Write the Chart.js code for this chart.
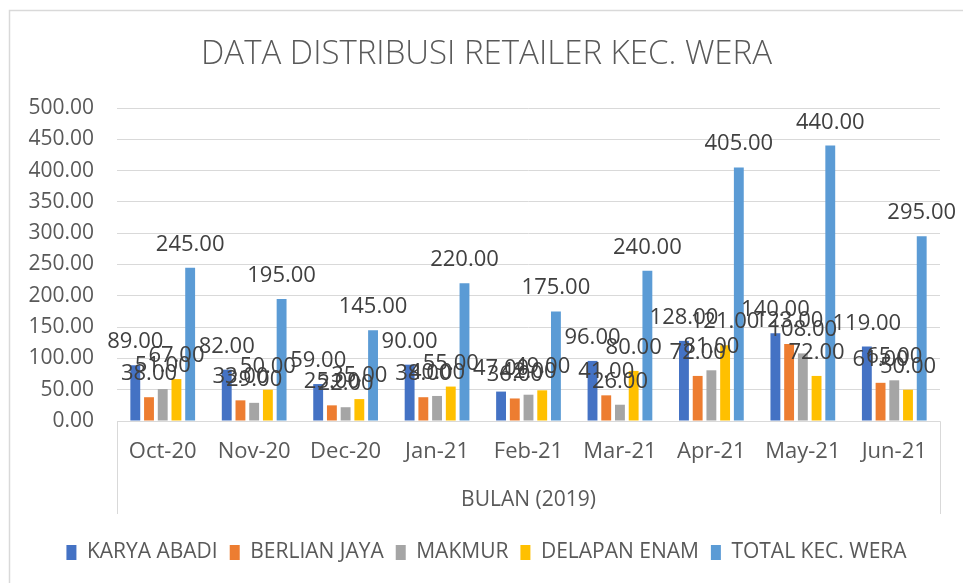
<!DOCTYPE html>
<html>
<head>
<meta charset="utf-8">
<script src="https://cdn.jsdelivr.net/npm/chart.js@4.4.1/dist/chart.umd.min.js"></script>
<style>
html,body{margin:0;padding:0;background:#fff;}
#wrap{width:963px;height:583px;}
</style>
</head>
<body>
<div id="wrap"><canvas id="c" width="963" height="583"></canvas></div>
<script>
const categories = ['Oct-20','Nov-20','Dec-20','Jan-21','Feb-21','Mar-21','Apr-21','May-21','Jun-21'];
const karyaAbadi   = [89, 82, 59, 90, 47, 96, 128, 140, 119];
const berlianJaya  = [38, 33, 25, 38, 36, 41, 72, 123, 61];
const makmur       = [51, 29, 22, 40, 42, 26, 81, 108, 65];
const delapanEnam  = [67, 50, 35, 55, 49, 80, 121, 72, 50];
const totalKecWera = [245, 195, 145, 220, 175, 240, 405, 440, 295];
const seriesNames  = ['KARYA ABADI','BERLIAN JAYA','MAKMUR','DELAPAN ENAM','TOTAL KEC. WERA'];
const yTicks = [0, 50, 100, 150, 200, 250, 300, 350, 400, 450, 500];
const chartTitle = 'DATA DISTRIBUSI RETAILER KEC. WERA';
const axisTitle = 'BULAN (2019)';

const colors = ['#4472C4','#ED7D31','#A5A5A5','#FFC000','#5B9BD5'];
const FONT = "'Open Sans', 'Liberation Sans', sans-serif";
const GRID = '#d9d9d9';
const TXT = '#595959';

const frameAndBox = {
  id: 'frameAndBox',
  beforeDraw(chart) {
    const ctx = chart.ctx;
    ctx.save();
    ctx.fillStyle = '#fff';
    ctx.fillRect(0, 0, chart.width, chart.height);
    ctx.strokeStyle = GRID;
    ctx.lineWidth = 1.5;
    ctx.strokeRect(9.5, 10.5, chart.width + 20, chart.height + 20);
    ctx.restore();
  },
  afterDraw(chart) {
    const {ctx, chartArea} = chart;
    ctx.save();
    ctx.strokeStyle = GRID;
    ctx.lineWidth = 1;
    const b = Math.round(chartArea.bottom) + 0.5;
    const l = Math.round(chartArea.left) + 0.5;
    const r = Math.round(chartArea.right) + 0.5;
    ctx.beginPath();
    ctx.moveTo(l, b); ctx.lineTo(r, b);
    ctx.moveTo(l, b); ctx.lineTo(l, 514);
    ctx.moveTo(r, b); ctx.lineTo(r, 514);
    ctx.stroke();
    ctx.restore();
  }
};

const valueLabels = {
  id: 'valueLabels',
  afterDatasetsDraw(chart) {
    const ctx = chart.ctx;
    ctx.save();
    ctx.font = "22px " + FONT;
    ctx.fillStyle = '#404040';
    ctx.textAlign = 'center';
    ctx.textBaseline = 'alphabetic';
    chart.data.datasets.forEach((ds, i) => {
      const meta = chart.getDatasetMeta(i);
      meta.data.forEach((el, j) => {
        ctx.fillText(Number(ds.data[j]).toFixed(2), el.x, el.y - 17);
      });
    });
    ctx.restore();
  }
};

const seriesData = [karyaAbadi, berlianJaya, makmur, delapanEnam, totalKecWera];

new Chart(document.getElementById('c'), {
  type: 'bar',
  data: {
    labels: categories,
    datasets: seriesNames.map((n, i) => ({
      label: n,
      data: seriesData[i],
      backgroundColor: colors[i],
      borderWidth: 0,
      categoryPercentage: 0.75,
      barPercentage: 0.72
    }))
  },
  options: {
    responsive: false,
    animation: false,
    devicePixelRatio: 1,
    layout: { padding: { left: 10, right: 0, top: 0, bottom: 10 } },
    plugins: {
      title: {
        display: true,
        text: chartTitle,
        color: TXT,
        font: { family: FONT, size: 33, weight: '300' },
        padding: { top: 35, bottom: 33.4 }
      },
      legend: {
        position: 'bottom',
        labels: {
          color: TXT,
          font: { family: FONT, size: 21 },
          boxWidth: 10,
          boxHeight: 15,
          padding: 12
        }
      },
      tooltip: { enabled: false }
    },
    scales: {
      x: {
        grid: { display: false, drawTicks: false },
        border: { display: false },
        ticks: { color: TXT, font: { family: FONT, size: 22 }, padding: 18, maxRotation: 0 },
        title: {
          display: true, text: axisTitle, color: TXT,
          font: { family: FONT, size: 21 }, padding: { top: 0, bottom: 17 }
        },
        afterFit(s) { s.height = 109; }
      },
      y: {
        min: 0, max: 500,
        afterBuildTicks(s) { s.ticks = yTicks.map(v => ({ value: v })); },
        grid: { color: GRID, drawTicks: false },
        border: { display: false },
        ticks: {
          color: TXT, font: { family: FONT, size: 21 }, padding: 23,
          callback: v => Number(v).toFixed(2)
        },
        afterFit(s) { s.width = 107; }
      },
      ySpace: {
        position: 'right',
        min: 0, max: 1,
        grid: { display: false, drawTicks: false },
        border: { display: false },
        ticks: { display: false },
        afterFit(s) { s.width = 23; }
      }
    }
  },
  plugins: [frameAndBox, valueLabels]
});
</script>
</body>
</html>
